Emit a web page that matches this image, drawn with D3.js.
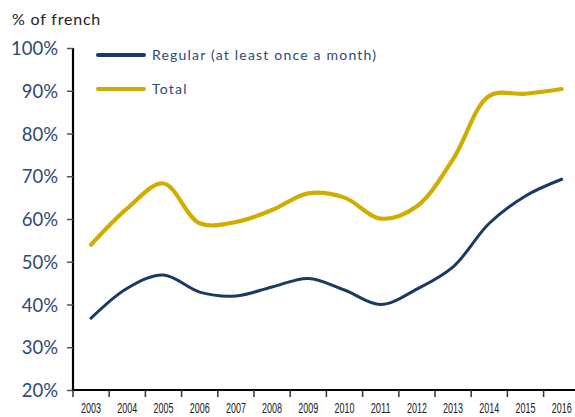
<!DOCTYPE html>
<html>
<head>
<meta charset="utf-8">
<script src="https://cdn.jsdelivr.net/npm/d3@7"></script>
<style>
  body { margin: 0; background: #fff; }
  svg { display: block; }
</style>
</head>
<body>
<div id="chart"></div>
<script>
// data
const years = ["2003", "2004", "2005", "2006", "2007", "2008", "2009", "2010", "2011", "2012", "2013", "2014", "2015", "2016"]
const regular = [36.8, 43.8, 46.9, 42.9, 42.0, 44.1, 46.1, 43.4, 40.0, 43.6, 48.8, 59.0, 65.4, 69.3]
const total = [54.0, 62.5, 68.3, 59.0, 59.3, 62.1, 66.0, 65.0, 60.1, 63.0, 74.0, 88.8, 89.3, 90.4]
const yTicks = [20, 30, 40, 50, 60, 70, 80, 90, 100]
const seriesNames = ["Regular (at least once a month)", "Total"]
const colors = ["#1b3a63", "#d1ad00"]

const width = 575
const height = 417
const plotLeft = 73
const plotTop = 48
const plotBottom = 390

const svg = d3.select("#chart")
  .append("svg")
  .attr("width", width)
  .attr("height", height)

const x = d3.scaleBand()
  .domain(years)
  .range([plotLeft, plotLeft + 36.2 * years.length])

const y = d3.scaleLinear()
  .domain([20, 100])
  .range([plotBottom, plotTop])

// y axis
const yAxis = svg.append("g")
  .attr("transform", `translate(${plotLeft},0)`)
  .call(d3.axisLeft(y).tickValues(yTicks).tickSize(6).tickPadding(9).tickFormat(d => d + "%"))
yAxis.select(".domain").attr("stroke", "#000").attr("stroke-width", 2.2)
  .attr("d", `M0,${plotTop}V${plotBottom + 1}`)
yAxis.selectAll(".tick line").attr("stroke", "#555").attr("stroke-width", 1.5)
yAxis.selectAll("text")
  .attr("fill", "#2d4a76")
  .style("font-family", "Lato, 'Noto Sans', sans-serif")
  .style("font-size", "18.5px")
  .attr("dy", "0.36em")

// x axis
const xAxis = svg.append("g")
  .attr("transform", `translate(0,${plotBottom})`)
  .call(d3.axisBottom(x).tickSize(0).tickPadding(13))
xAxis.select(".domain").attr("stroke", "#000").attr("stroke-width", 2.2)
  .attr("d", `M${plotLeft - 1},0H${width}`)
xAxis.selectAll("text")
  .attr("fill", "#222")
  .style("font-family", "'Liberation Sans', sans-serif")
  .style("font-size", "14px")
  .attr("textLength", 20)
  .attr("lengthAdjust", "spacingAndGlyphs")

// tick marks sit between the year labels
svg.append("g")
  .selectAll("line")
  .data(years)
  .enter().append("line")
  .attr("x1", d => x(d))
  .attr("x2", d => x(d))
  .attr("y1", plotBottom)
  .attr("y2", plotBottom + 7)
  .attr("stroke", "#333")
  .attr("stroke-width", 1.5)

// title
svg.append("text")
  .attr("x", 12)
  .attr("y", 25)
  .attr("fill", "#222")
  .style("font-family", "Lato, 'Noto Sans', sans-serif")
  .style("font-size", "16px")
  .style("letter-spacing", "0.8px")
  .text("% of french")

// lines
const line = d3.line()
  .x((d, i) => x(years[i]) + x.bandwidth() / 2)
  .y(d => y(d))
  .curve(d3.curveCatmullRom.alpha(0.5))

const series = [regular, total]
const widths = [3, 4.2]

svg.selectAll(".series")
  .data(series)
  .enter().append("path")
  .attr("class", "series")
  .attr("d", d => line(d))
  .attr("fill", "none")
  .attr("stroke", (d, i) => colors[i])
  .attr("stroke-width", (d, i) => widths[i])
  .attr("stroke-linecap", "round")
  .attr("stroke-linejoin", "round")

// legend
const legend = svg.selectAll(".legend")
  .data(seriesNames)
  .enter().append("g")
  .attr("class", "legend")
  .attr("transform", (d, i) => `translate(98,${55 + i * 34})`)

legend.append("line")
  .attr("x1", 0)
  .attr("x2", 46)
  .attr("stroke", (d, i) => colors[i])
  .attr("stroke-width", 4)
  .attr("stroke-linecap", "round")

legend.append("text")
  .attr("x", 54)
  .attr("y", 5)
  .attr("fill", "#2d4a76")
  .style("font-family", "Lato, 'Noto Sans', sans-serif")
  .style("font-size", "14px")
  .style("letter-spacing", "1.2px")
  .text(d => d)
</script>
</body>
</html>
